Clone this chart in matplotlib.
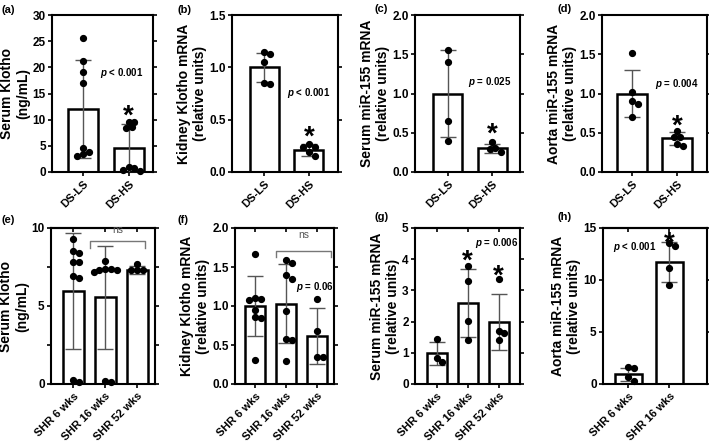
import numpy as np
import matplotlib
matplotlib.use('Agg')
import matplotlib.pyplot as plt

plt.rcParams['font.family'] = ['Liberation Sans', 'DejaVu Sans']
plt.rcParams['font.weight'] = 'bold'
plt.rcParams['axes.labelweight'] = 'bold'
plt.rcParams['mathtext.fontset'] = 'custom'
plt.rcParams['mathtext.it'] = 'Liberation Sans:italic:bold'
plt.rcParams['mathtext.rm'] = 'Liberation Sans:bold'

W, H = 709, 445

ds_labels = ['DS-LS', 'DS-HS']
shr_labels = ['SHR 6 wks', 'SHR 16 wks', 'SHR 52 wks']

# (a) serum klotho, DS rats
a_mean = [12.0, 4.5]
a_sd = [9.4, 4.7]
a_pts = [[25.7, 21.2, 19.2, 17.1, 4.5, 3.8, 3.4, 3.0],
         [9.5, 9.6, 8.4, 8.6, 0.9, 0.8, 0.3, 0.1]]

# (b) kidney klotho mRNA, DS rats
b_mean = [1.0, 0.21]
b_sd = [0.14, 0.055]
b_pts = [[1.15, 1.13, 1.05, 0.85, 0.84],
         [0.27, 0.24, 0.24, 0.19, 0.15]]

# (c) serum miR-155, DS rats
c_mean = [1.0, 0.30]
c_sd = [0.56, 0.055]
c_pts = [[1.56, 1.40, 0.65, 0.40],
         [0.38, 0.31, 0.29, 0.26]]

# (d) aorta miR-155, DS rats
d_mean = [1.0, 0.43]
d_sd = [0.30, 0.08]
d_pts = [[1.51, 1.02, 0.90, 0.87, 0.70],
         [0.52, 0.45, 0.45, 0.36, 0.33]]

# (e) serum klotho, SHR
e_mean = [5.95, 5.55, 7.3]
e_sd = [3.7, 3.3, 0.24]
e_pts = [[9.3, 8.5, 8.4, 7.8, 7.8, 6.8, 6.9, 0.13, 0.28],
         [7.9, 7.4, 7.3, 7.2, 7.3, 7.4, 0.1, 0.17],
         [7.7, 7.3, 7.3, 7.3]]

# (f) kidney klotho mRNA, SHR
f_mean = [1.0, 1.03, 0.62]
f_sd = [0.38, 0.51, 0.36]
f_pts = [[1.67, 1.10, 1.08, 1.09, 0.95, 0.85, 0.86, 0.31],
         [1.55, 1.59, 1.40, 1.34, 0.94, 0.58, 0.56, 0.30],
         [1.09, 0.68, 0.35, 0.35]]

# (g) serum miR-155, SHR
g_mean = [0.98, 2.6, 2.0]
g_sd = [0.38, 1.1, 0.9]
g_pts = [[1.43, 0.84, 0.70],
         [3.78, 3.29, 2.01, 1.42],
         [3.37, 1.71, 1.63, 1.42]]

# (h) aorta miR-155, SHR
h_mean = [0.95, 11.75]
h_sd = [0.62, 1.9]
h_pts = [[1.5, 1.6, 0.65, 0.3],
         [13.25, 13.55, 11.15, 9.55]]


def swarm(vals, px_x, px_y, diam=5.8):
    # simple beeswarm: returns x offsets in data units
    order = np.argsort(vals)[::-1]
    placed = []
    offs = np.zeros(len(vals))
    cands = [0.0]
    for k in range(1, 8):
        cands += [0.5 * k, -0.5 * k]
    for i in order:
        v = vals[i]
        for c in cands:
            ok = True
            for o, pv in placed:
                if np.hypot((c - o) * diam, (v - pv) * px_y) < diam * 0.95:
                    ok = False
                    break
            if ok:
                break
        placed.append((c, v))
        offs[i] = c * diam / px_x
    return offs


def make_panel(box, xlim, ymax, yticks, labels, means, sds, pts, ylabel,
               minor=None, top_ticks=False):
    l, t, r, b = box
    ax = fig.add_axes([l / W, 1 - b / H, (r - l) / W, (b - t) / H])
    x = np.arange(len(means))
    ax.bar(x, means, width=0.65, color='white', edgecolor='black',
           linewidth=1.8, zorder=2)
    ax.errorbar(x, means, yerr=sds, fmt='none', ecolor='#555555',
                elinewidth=1, capsize=6, capthick=1, zorder=3)
    px_x = (r - l) / (xlim[1] - xlim[0])
    px_y = (b - t) / ymax
    for i, p in enumerate(pts):
        p = np.array(p)
        ax.plot(x[i] + swarm(p, px_x, px_y), p, 'o', color='black', ms=4.2,
                zorder=4, clip_on=False)
    ax.set_xlim(*xlim)
    ax.set_ylim(0, ymax)
    ax.set_yticks(yticks)
    if ymax < 3:
        ax.set_yticklabels(['%.1f' % v for v in yticks])
    if minor is not None:
        ax.set_yticks(minor, minor=True)
        ax.tick_params(axis='y', which='minor', length=3, width=1.2, right=True)
    ax.set_xticks(x)
    ax.set_xticklabels(labels, rotation=45, ha='right', rotation_mode='anchor',
                       fontsize=8)
    ax.tick_params(axis='y', labelsize=8.5, length=3, width=1.2, pad=1.5,
                   right=True)
    ax.tick_params(axis='x', length=3, width=1.2, pad=2)
    if top_ticks:
        sec = ax.secondary_xaxis('top')
        sec.set_xticks(x)
        sec.tick_params(direction='in', length=3, width=1.2, labeltop=False)
        sec.spines['top'].set_linewidth(1.5)
    for s in ax.spines.values():
        s.set_linewidth(1.5)
    ax.set_ylabel(ylabel, fontsize=10, labelpad=1.5)
    return ax


def ptext(ax, x, y, s):
    ax.text(x, y, r'$p$' + s, ha='center', va='center', fontsize=7,
            fontweight='bold')


def star(ax, x, y):
    ax.annotate('*', (x, y), xytext=(0, -0.58 * 20), textcoords='offset points',
                ha='center', va='baseline', fontsize=20, fontweight='bold')


def bracket(ax, x0, x1, y, drop, text_y):
    ax.plot([x0, x0, x1, x1], [y - drop, y, y, y - drop], color='#777777', lw=1)
    ax.text((x0 + x1) / 2, text_y, 'ns', ha='center', va='center', fontsize=7.5,
            fontweight='normal', color='#555555')


fig = plt.figure(figsize=(W / 100, H / 100), dpi=100)

ax = make_panel((52, 15, 153, 172), (-0.67, 1.53), 30, [0, 5, 10, 15, 20, 25, 30],
                ds_labels, a_mean, a_sd, a_pts, 'Serum Klotho\n(ng/mL)')
ptext(ax, 0.85, 19, ' < 0.001')
star(ax, 1, 12.4)

ax = make_panel((232, 15, 338, 172), (-0.72, 1.65), 1.5, [0, 0.5, 1.0, 1.5],
                ds_labels, b_mean, b_sd, b_pts,
                'Kidney Klotho mRNA\n(relative units)')
ptext(ax, 1.0, 0.755, ' < 0.001')
star(ax, 1, 0.42)

ax = make_panel((415, 15, 520, 172), (-0.74, 1.62), 2, [0, 0.5, 1.0, 1.5, 2.0],
                ds_labels, c_mean, c_sd, c_pts,
                'Serum miR-155 mRNA\n(relative units)')
ptext(ax, 0.95, 1.15, ' = 0.025')
star(ax, 1, 0.59)

ax = make_panel((602, 15, 707, 172), (-0.67, 1.67), 2, [0, 0.5, 1.0, 1.5, 2.0],
                ds_labels, d_mean, d_sd, d_pts,
                'Aorta miR-155 mRNA\n(relative units)')
ptext(ax, 1.0, 1.12, ' = 0.004')
star(ax, 1, 0.69)

ax = make_panel((51, 228, 155, 384), (-0.70, 2.56), 10, [0, 5, 10],
                shr_labels, e_mean, e_sd, e_pts, 'Serum Klotho\n(ng/mL)',
                minor=[2.5, 7.5], top_ticks=True)
bracket(ax, 0.52, 2.24, 9.17, 0.45, 9.85)

ax = make_panel((235, 228, 334, 384), (-0.65, 2.55), 2, [0, 0.5, 1.0, 1.5, 2.0],
                shr_labels, f_mean, f_sd, f_pts,
                'Kidney Klotho mRNA\n(relative units)', top_ticks=True)
bracket(ax, 0.69, 2.46, 1.70, 0.07, 1.91)
ptext(ax, 1.93, 1.24, ' = 0.06')

ax = make_panel((415, 228, 520, 384), (-0.70, 2.69), 5, [0, 1, 2, 3, 4, 5],
                shr_labels, g_mean, g_sd, g_pts,
                'Serum miR-155 mRNA\n(relative units)', top_ticks=True)
ptext(ax, 1.95, 4.52, ' = 0.006')
star(ax, 1, 4.2)
star(ax, 2, 3.72)

ax = make_panel((603, 228, 707, 384), (-0.61, 1.91), 15, [0, 5, 10, 15],
                shr_labels[:2], h_mean, h_sd, h_pts,
                'Aorta miR-155 mRNA\n(relative units)', top_ticks=True)
ptext(ax, 0.16, 13.2, ' < 0.001')
star(ax, 1, 14.35)

for lab, px, py in [('(a)', 2, 10), ('(b)', 178, 10), ('(c)', 375, 9), ('(d)', 558, 9),
                    ('(e)', 2, 220), ('(f)', 177, 220), ('(g)', 375, 217), ('(h)', 558, 217)]:
    fig.text(px / W, 1 - py / H, lab, ha='left', va='center', fontsize=8,
             fontweight='bold')

fig.savefig('out.png', dpi=100)
